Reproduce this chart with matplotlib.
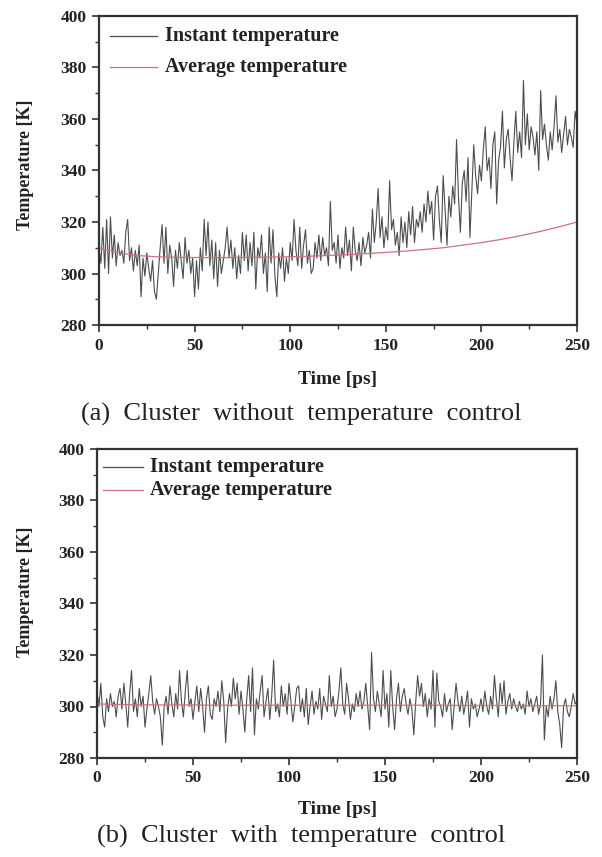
import numpy as np
import matplotlib.pyplot as plt
from matplotlib.ticker import MultipleLocator

# time axis, 1 ps steps
time_ps = list(range(0, 251))

# (a) cluster without temperature control, instant temperature [K]
inst_a = [
    310, 304, 318, 302, 321, 300, 322, 306, 315, 303,
    312, 307, 309, 304, 316, 321, 305, 310, 301, 309,
    303, 311, 291, 306, 299, 308, 302, 297, 305, 293,
    290, 300, 310, 319, 304, 318, 300, 311, 306, 295,
    309, 302, 312, 305, 298, 314, 304, 309, 300, 306,
    291, 305, 294, 310, 301, 321, 307, 320, 303, 313,
    298, 312, 295, 309, 300, 305, 310, 318, 306, 313,
    302, 310, 298, 307, 300, 316, 305, 315, 301, 312,
    303, 316, 294, 310, 306, 315, 300, 308, 293, 318,
    304, 317, 299, 291, 308, 302, 310, 297, 306, 300,
    312, 305, 321, 309, 303, 318, 302, 311, 317, 304,
    309, 300, 302, 312, 306, 315, 305, 314, 307, 310,
    303, 328, 309, 312, 304, 315, 302, 310, 306, 318,
    307, 313, 301, 318, 309, 305, 312, 303, 314, 308,
    311, 316, 306, 325, 312, 320, 333, 314, 322, 310,
    318, 313, 336, 317, 321, 311, 316, 307, 322, 312,
    320, 310, 324, 315, 326, 312, 321, 318, 324, 316,
    327, 320, 332, 323, 328, 313, 330, 334, 321, 312,
    338, 325, 311, 330, 322, 334, 327, 352, 330, 316,
    335, 340, 328, 345, 314, 332, 350, 338, 331, 342,
    336, 348, 357, 340, 345, 333, 350, 355, 327, 344,
    349, 363, 341, 352, 356, 345, 336, 351, 363, 347,
    355, 345, 375, 350, 362, 348, 357, 353, 346, 355,
    340, 371, 352, 358, 350, 344, 355, 348, 357, 369,
    351, 356, 347, 354, 361, 350, 356, 353, 349, 363,
    358,
]

# (b) cluster with temperature control, instant temperature [K]
inst_b = [
    306, 300, 309, 296, 292, 303, 298, 305, 300, 302,
    296, 304, 307, 299, 309, 301, 292, 305, 314, 298,
    303, 296, 307, 300, 304, 292, 299, 305, 312, 302,
    297, 303, 300, 296, 285, 300, 304, 297, 308, 301,
    296, 305, 299, 314, 302, 296, 306, 314, 300, 303,
    295, 302, 308, 298, 307, 300, 290, 303, 308, 297,
    295, 303, 300, 306, 298, 310, 302, 286, 299, 305,
    300, 311, 303, 309, 297, 306, 299, 290, 303, 312,
    298, 315, 289, 303, 299, 306, 312, 296, 302, 307,
    295, 304, 318, 298, 301, 296, 308, 300, 305, 297,
    309, 302, 294, 300, 307, 308, 298, 303, 296, 307,
    293, 300, 306, 297, 302, 299, 307, 295, 304, 301,
    298, 312, 300, 304, 296, 299, 306, 315, 301, 297,
    309, 303, 295, 301, 298, 305, 300, 306, 299, 302,
    309, 300, 291, 321, 303, 298, 306, 301, 296, 314,
    299, 305, 292, 314, 300, 291, 303, 309, 298, 304,
    307, 301, 297, 303, 299, 289, 302, 312, 304, 309,
    300, 305, 296, 303, 299, 314, 292, 313, 302, 300,
    296, 305, 298, 301, 303, 291, 300, 309, 302, 298,
    304, 297, 301, 306, 292, 303, 299, 301, 296, 299,
    303, 298, 306, 300, 297, 304, 299, 312, 303, 296,
    309, 301, 310, 297, 302, 305, 299, 303, 300, 298,
    302, 299, 301, 297, 306, 300, 303, 298, 301, 304,
    297, 301, 320, 287, 300, 296, 304, 299, 303, 310,
    298, 293, 284, 300, 303, 298, 296, 300, 305, 301,
    302,
]

# running average temperature, read every 10 ps
avg_time = list(range(0, 251, 10))
avg_a = [310, 308, 307, 306.5, 306.3, 306.2, 306.2, 306.2, 306.3, 306.4,
         306.5, 306.7, 307, 307.3, 307.7, 308.2, 308.7, 309.3, 310, 311,
         312, 313.2, 314.6, 316.2, 318, 320]
avg_b = [301, 300.8, 300.7, 300.6, 300.6, 300.6, 300.5, 300.5, 300.5, 300.5,
         300.5, 300.5, 300.5, 300.5, 300.5, 300.5, 300.5, 300.5, 300.5, 300.4,
         300.4, 300.4, 300.4, 300.3, 300.3, 300.3]

captions = ['(a)  Cluster  without  temperature  control',
            '(b)  Cluster  with  temperature  control']

W, H = 602, 857
fig = plt.figure(figsize=(W / 100, H / 100), dpi=100)
serif = ['Liberation Serif', 'DejaVu Serif']

def px_axes(left, top, right, bottom):
    return fig.add_axes([left / W, 1 - bottom / H, (right - left) / W, (bottom - top) / H])

panels = [
    (px_axes(99, 16, 577, 325), inst_a, avg_a, (110, 157, 165, 36, 67), 379, 414, 165),
    (px_axes(97, 449, 577, 758), inst_b, avg_b, (103, 143, 150, 467, 490), 809, 836, 592),
]

for i, (ax, inst, avg, leg, xl_y, cap_y, yl_y) in enumerate(panels):
    ax.plot(time_ps, inst, color='#4d4d4d', lw=0.8)
    ax.plot(avg_time, avg, color='#d0707e', lw=0.9)
    ax.set_xlim(0, 250)
    ax.set_ylim(280, 400)
    ax.xaxis.set_major_locator(MultipleLocator(50))
    ax.xaxis.set_minor_locator(MultipleLocator(25))
    ax.yaxis.set_major_locator(MultipleLocator(20))
    ax.yaxis.set_minor_locator(MultipleLocator(10))
    ax.tick_params(which='major', direction='out', length=5, width=1.2,
                   color='#333333', pad=4)
    ax.tick_params(which='minor', direction='out', length=3, width=1,
                   color='#333333')
    for lab in ax.get_xticklabels() + ax.get_yticklabels():
        lab.set_family(serif)
        lab.set_fontweight('bold')
        lab.set_fontsize(12.5)
        lab.set_color('#222222')
    for sp in ax.spines.values():
        sp.set_linewidth(1.6)
        sp.set_color('#333333')

    # legend drawn by hand in pixel positions
    lx0, lx1, tx, y1, y2 = leg
    for yy, col, txt in [(y1, '#4d4d4d', 'Instant temperature'),
                         (y2, '#d0707e', 'Average temperature')]:
        fig.add_artist(plt.Line2D([lx0 / W, lx1 / W], [1 - yy / H, 1 - yy / H],
                                  color=col, lw=0.9))
        fig.text(tx / W, 1 - yy / H, txt, family=serif, fontweight='bold',
                 fontsize=14.5, ha='left', va='center', color='#222222')

    fig.text(338 / W, 1 - xl_y / H, 'Time [ps]', family=serif, fontweight='bold',
             fontsize=14, ha='center', va='center', color='#222222')
    fig.text(25 / W, 1 - yl_y / H, 'Temperature [K]', family=serif, fontweight='bold',
             fontsize=13, rotation=90, ha='center', va='center', color='#222222')
    fig.text(301 / W, 1 - cap_y / H, captions[i], family=serif,
             fontsize=19, ha='center', va='center', color='#222222')

fig.savefig('out.png', dpi=100)
